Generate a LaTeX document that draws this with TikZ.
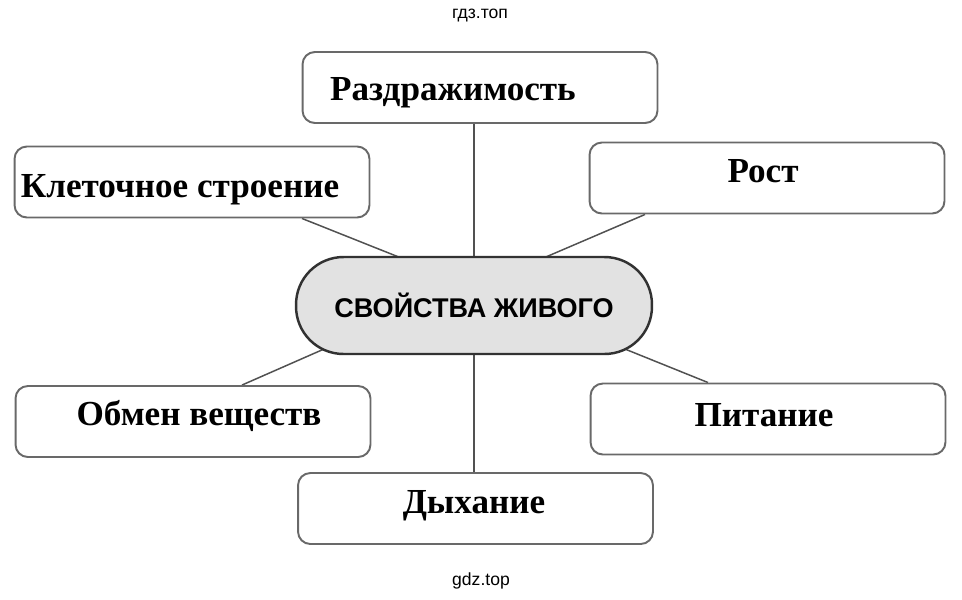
\documentclass[tikz,border=0pt]{standalone}
\usepackage{fontspec}
\setmainfont{Liberation Serif}
\newfontfamily\sansfont{Liberation Sans}
\usetikzlibrary{calc,backgrounds}

\definecolor{boxline}{RGB}{105,105,105}
\definecolor{pillfill}{RGB}{226,226,226}
\definecolor{pillline}{RGB}{50,50,50}

\begin{document}
\begin{tikzpicture}[x=0.02cm,y=-0.02cm,
  box/.style={draw=boxline,line width=1.1pt,rounded corners=7pt,fill=white,
    minimum width=7.1cm,minimum height=1.42cm,inner sep=0pt},
  word/.style={anchor=base,inner sep=0pt,font=\bfseries\fontsize{20}{23}\selectfont},
  pill/.style={draw=pillline,line width=1.4pt,fill=pillfill,rounded corners=0.95cm,
    minimum width=7.12cm,minimum height=1.94cm,inner sep=0pt,
    font=\sansfont\bfseries\fontsize{15.4}{18}\selectfont},
  link/.style={draw=pillline!85,line width=0.85pt},
  watermark/.style={anchor=base,inner sep=0pt,font=\sansfont\fontsize{10}{12}\selectfont}]
  \useasboundingbox (0,0) rectangle (962,599);

  \node[watermark] (wmtop) at (480,18) {гдз.топ};
  \node[watermark] (wmbot) at (481,585) {gdz.top};

  \node[pill] (svoistva) at (474,305.5) {СВОЙСТВА ЖИВОГО};

  \node[box] (razd) at (480,87.5) {};
  \node[box] (kletka) at (192,182) {};
  \node[box] (rost) at (767,178) {};
  \node[box] (obmen) at (193,421.5) {};
  \node[box] (pit) at (768,419) {};
  \node[box] (dyh) at (475.5,508.5) {};

  \node[word] (razdtext) at (453,100) {Раздражимость};
  \node[word] (kletkatext) at (180,197) {Клеточное строение};
  \node[word] (rosttext) at (763,182) {Рост};
  \node[word] (obmentext) at (199,425) {Обмен веществ};
  \node[word] (pittext) at (764,426) {Питание};
  \node[word] (dyhtext) at (474,513) {Дыхание};

  \begin{scope}[on background layer]
    \draw[link] (svoistva.north) -- (razd.south -| svoistva.north);
    \draw[link] (svoistva.south) -- (dyh.north -| svoistva.south);
    \draw[link] (kletka.south -| 302,0) -- ($(svoistva)+(-64,-44)$);
    \draw[link] (rost.south -| 645,0) -- ($(svoistva)+(66,-46)$);
    \draw[link] (obmen.north -| 242,0) -- ($(svoistva)+(-134,36.5)$);
    \draw[link] (pit.north -| 708,0) -- ($(svoistva)+(136,37.5)$);
  \end{scope}
\end{tikzpicture}
\end{document}
